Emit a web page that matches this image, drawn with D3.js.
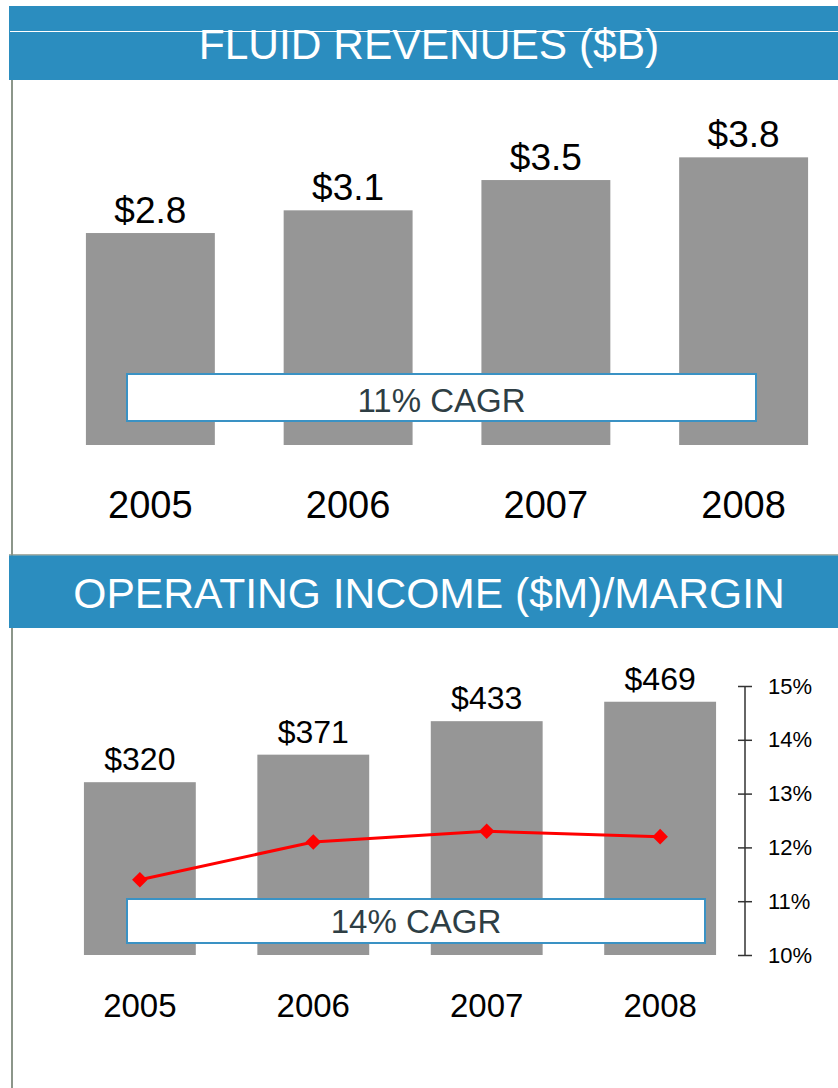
<!DOCTYPE html>
<html>
<head>
<meta charset="utf-8">
<script src="https://cdn.jsdelivr.net/npm/d3@7"></script>
<style>
  html, body { margin: 0; padding: 0; background: #fff; }
  svg { display: block; font-family: "Liberation Sans", Arial, sans-serif; }
</style>
</head>
<body>
<svg id="chart" width="838" height="1088"></svg>
<script>
// chart data
const years = ["2005", "2006", "2007", "2008"];
const revenues = [2.8, 3.1, 3.5, 3.8];          // $B
const opIncome = [320, 371, 433, 469];          // $M
const margins = [11.4, 12.1, 12.3, 12.2];       // %
const marginTicks = [10, 11, 12, 13, 14, 15];

const blue = "#2b8dbf";
const barGrey = "#969696";

const svg = d3.select("#chart");

// left rule
svg.append("line")
    .attr("x1", 12).attr("x2", 12)
    .attr("y1", 80).attr("y2", 1088)
    .attr("stroke", "#8c968a").attr("stroke-width", 2);

// header bands
function header(y, h, label, baseline, size) {
    svg.append("rect")
        .attr("x", 9).attr("y", y)
        .attr("width", 829).attr("height", h)
        .attr("fill", blue);
    svg.append("text")
        .attr("x", 429).attr("y", baseline)
        .attr("text-anchor", "middle")
        .attr("font-size", size)
        .attr("fill", "#fff")
        .text(label);
}
header(6, 74, "FLUID REVENUES ($B)", 59, 42.5);
svg.append("line")
    .attr("x1", 10).attr("x2", 838)
    .attr("y1", 31.5).attr("y2", 31.5)
    .attr("stroke", "#fff").attr("stroke-width", 1);

svg.append("line")
    .attr("x1", 9).attr("x2", 838)
    .attr("y1", 555).attr("y2", 555)
    .attr("stroke", "#8c968a").attr("stroke-width", 1.5);
header(555.5, 72.5, "OPERATING INCOME ($M)/MARGIN", 608, 42.6);

// ---- top chart: revenues ----
const x1 = d3.scaleBand().domain(years).range([51.5, 842.5])
    .paddingInner(0.348).paddingOuter(0.174);
const y1 = d3.scaleLinear().domain([0, 4]).range([445, 142.2]);

const topG = svg.append("g");
topG.selectAll("rect.bar")
    .data(revenues)
    .join("rect")
    .attr("class", "bar")
    .attr("x", (d, i) => x1(years[i]))
    .attr("y", d => y1(d))
    .attr("width", x1.bandwidth())
    .attr("height", d => y1(0) - y1(d))
    .attr("fill", barGrey);

topG.selectAll("text.val")
    .data(revenues)
    .join("text")
    .attr("class", "val")
    .attr("x", (d, i) => x1(years[i]) + x1.bandwidth() / 2)
    .attr("y", d => y1(d) - 10)
    .attr("text-anchor", "middle")
    .attr("font-size", 37)
    .attr("fill", "#000")
    .text(d => "$" + d.toFixed(1));

topG.selectAll("text.year")
    .data(years)
    .join("text")
    .attr("class", "year")
    .attr("x", d => x1(d) + x1.bandwidth() / 2)
    .attr("y", 518)
    .attr("text-anchor", "middle")
    .attr("font-size", 38)
    .attr("fill", "#000")
    .text(d => d);

function cagrBox(g, x, y, w, h, label, baseline) {
    g.append("rect")
        .attr("x", x).attr("y", y)
        .attr("width", w).attr("height", h)
        .attr("fill", "#fff")
        .attr("stroke", "#3a92c4").attr("stroke-width", 2);
    g.append("text")
        .attr("x", x + w / 2).attr("y", baseline)
        .attr("text-anchor", "middle")
        .attr("font-size", 33)
        .attr("fill", "#2e3e44")
        .text(label);
}
cagrBox(topG, 127, 374, 629, 47, "11% CAGR", 412);

// ---- bottom chart: operating income + margin ----
const x2 = d3.scaleBand().domain(years).range([53.15, 746.85])
    .paddingInner(0.355).paddingOuter(0.1775);
const y2 = d3.scaleLinear().domain([0, 500]).range([955, 685]);
const yM = d3.scaleLinear().domain([10, 15]).range([955, 686]);

const botG = svg.append("g");
botG.selectAll("rect.bar")
    .data(opIncome)
    .join("rect")
    .attr("class", "bar")
    .attr("x", (d, i) => x2(years[i]))
    .attr("y", d => y2(d))
    .attr("width", x2.bandwidth())
    .attr("height", d => y2(0) - y2(d))
    .attr("fill", barGrey);

botG.selectAll("text.val")
    .data(opIncome)
    .join("text")
    .attr("class", "val")
    .attr("x", (d, i) => x2(years[i]) + x2.bandwidth() / 2)
    .attr("y", d => y2(d) - 12)
    .attr("text-anchor", "middle")
    .attr("font-size", 32)
    .attr("fill", "#000")
    .text(d => "$" + d);

botG.selectAll("text.year")
    .data(years)
    .join("text")
    .attr("class", "year")
    .attr("x", d => x2(d) + x2.bandwidth() / 2)
    .attr("y", 1017)
    .attr("text-anchor", "middle")
    .attr("font-size", 33)
    .attr("fill", "#000")
    .text(d => d);

cagrBox(botG, 127, 899, 578, 44, "14% CAGR", 933);

// margin line
const pts = margins.map((m, i) => [x2(years[i]) + x2.bandwidth() / 2, yM(m)]);
botG.append("path")
    .attr("d", d3.line()(pts))
    .attr("fill", "none")
    .attr("stroke", "#ff0000")
    .attr("stroke-width", 3);
botG.selectAll("path.marker")
    .data(pts)
    .join("path")
    .attr("class", "marker")
    .attr("transform", d => `translate(${d[0]},${d[1]}) rotate(45)`)
    .attr("d", d3.symbol(d3.symbolSquare, 121)())
    .attr("fill", "#ff0000");

// right axis
const axis = d3.axisRight(yM)
    .tickValues(marginTicks)
    .tickSize(7)
    .tickFormat(d => d + "%");
const ax = botG.append("g")
    .attr("transform", "translate(745,0)")
    .call(axis);
ax.select(".domain").attr("stroke", "#333").attr("stroke-width", 1.5)
    .attr("d", `M0,${yM(10)}V${yM(15)}`);
ax.selectAll(".tick line").attr("x1", -7).attr("stroke", "#333").attr("stroke-width", 1.5);
ax.selectAll(".tick text")
    .attr("x", 23)
    .attr("font-size", 22)
    .attr("font-family", "Liberation Sans, Arial, sans-serif")
    .attr("fill", "#000")
    .attr("text-anchor", "start");
</script>
</body>
</html>
